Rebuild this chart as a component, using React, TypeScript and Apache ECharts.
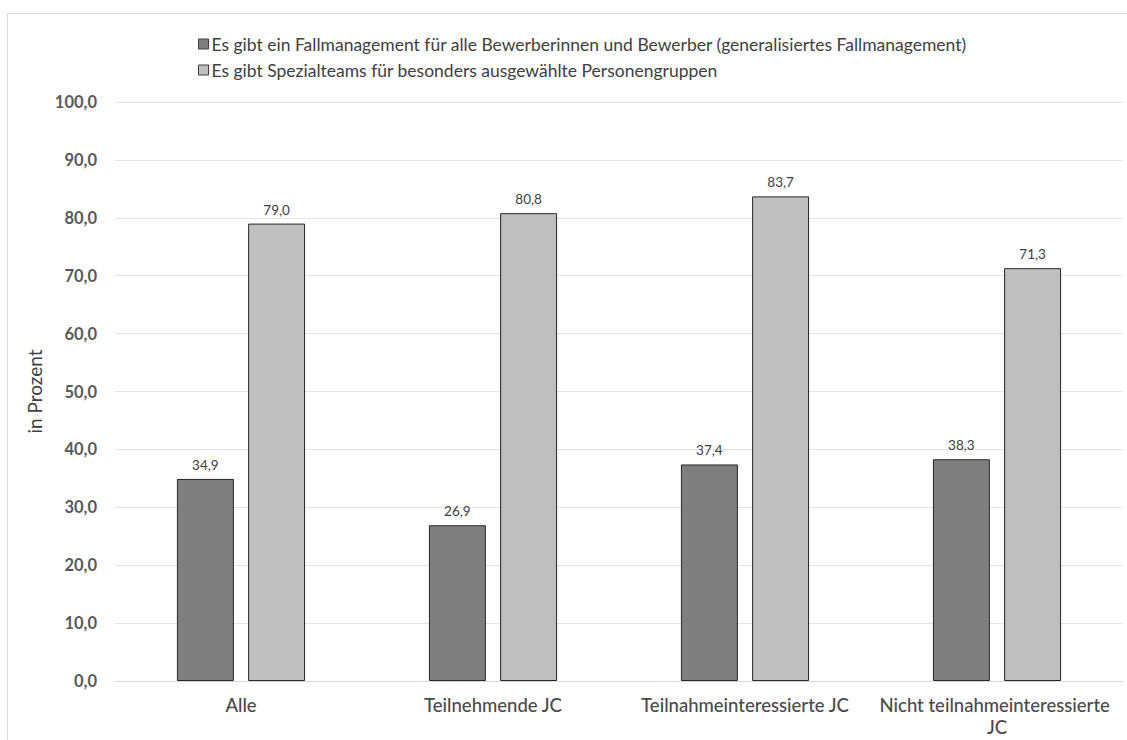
import React, { useEffect, useRef } from "react";
import * as echarts from "echarts";

const categories = ["Alle", "Teilnehmende JC", "Teilnahmeinteressierte JC", "Nicht teilnahmeinteressierte JC"];
const seriesNames = [
  "Es gibt ein Fallmanagement für alle Bewerberinnen und Bewerber (generalisiertes Fallmanagement)",
  "Es gibt Spezialteams für besonders ausgewählte Personengruppen",
];
const fallmanagement = [34.9, 26.9, 37.4, 38.3];
const spezialteams = [79.0, 80.8, 83.7, 71.3];

const FONT = "Lato, 'Noto Sans', sans-serif";
const fmt = (v: number) => v.toFixed(1).replace(".", ",");

export default function App() {
  const ref = useRef<HTMLDivElement>(null);
  useEffect(() => {
    document.body.style.margin = "0";
    const chart = echarts.init(ref.current!, null, { renderer: "svg" });
    const barLabel = {
      show: true,
      position: "top",
      distance: 7,
      fontFamily: FONT,
      fontSize: 13.5,
      color: "#404040",
      formatter: (p: any) => fmt(p.value),
    };
    chart.setOption({
      animation: false,
      backgroundColor: "#ffffff",
      textStyle: { fontFamily: FONT },
      graphic: [
        {
          type: "rect",
          shape: { x: 7.5, y: 13.5, width: 1130, height: 740 },
          style: { fill: "none", stroke: "#d9d9d9", lineWidth: 1 },
          silent: true,
        },
      ],
      legend: {
        orient: "vertical",
        left: 193,
        top: 30,
        icon: "rect",
        itemWidth: 10,
        itemHeight: 10,
        itemGap: 8,
        itemStyle: { borderColor: "#404040", borderWidth: 1 },
        textStyle: { fontFamily: FONT, fontSize: 17.5, color: "#404040", padding: [0, 0, 0, -2] },
        data: seriesNames,
      },
      grid: { left: 115, right: 4, top: 102, bottom: 59, containLabel: false },
      xAxis: {
        type: "category",
        data: categories,
        axisLine: { show: true, lineStyle: { color: "#d9d9d9" } },
        axisTick: { show: false },
        axisLabel: {
          fontFamily: FONT,
          fontSize: 18.5,
          fontWeight: 500,
          color: "#4a4a4a",
          margin: 13,
          lineHeight: 22,
          width: 240,
          overflow: "break",
          interval: 0,
        },
      },
      yAxis: {
        type: "value",
        min: 0,
        max: 100,
        interval: 10,
        name: "in Prozent",
        nameLocation: "middle",
        nameGap: 70,
        nameRotate: 90,
        nameTextStyle: { fontFamily: FONT, fontSize: 19, color: "#404040" },
        axisLine: { show: false },
        axisTick: { show: false },
        splitLine: { lineStyle: { color: "#e3e3e3" } },
        axisLabel: {
          fontFamily: FONT,
          fontSize: 16.5,
          fontWeight: "bold",
          color: "#595959",
          margin: 18,
          formatter: (v: number) => fmt(v),
        },
      },
      series: [
        {
          name: seriesNames[0],
          type: "bar",
          data: fallmanagement,
          barWidth: "22.6%",
          barGap: "25%",
          itemStyle: { color: "#7f7f7f", borderColor: "#262626", borderWidth: 1 },
          label: barLabel,
        },
        {
          name: seriesNames[1],
          type: "bar",
          data: spezialteams,
          barWidth: "22.6%",
          barGap: "25%",
          itemStyle: { color: "#bfbfbf", borderColor: "#262626", borderWidth: 1 },
          label: barLabel,
        },
      ],
    });
    return () => chart.dispose();
  }, []);
  return (
    <div
      ref={ref}
      style={{ position: "fixed", left: 0, top: 0, width: 1127, height: 740 }}
    />
  );
}
